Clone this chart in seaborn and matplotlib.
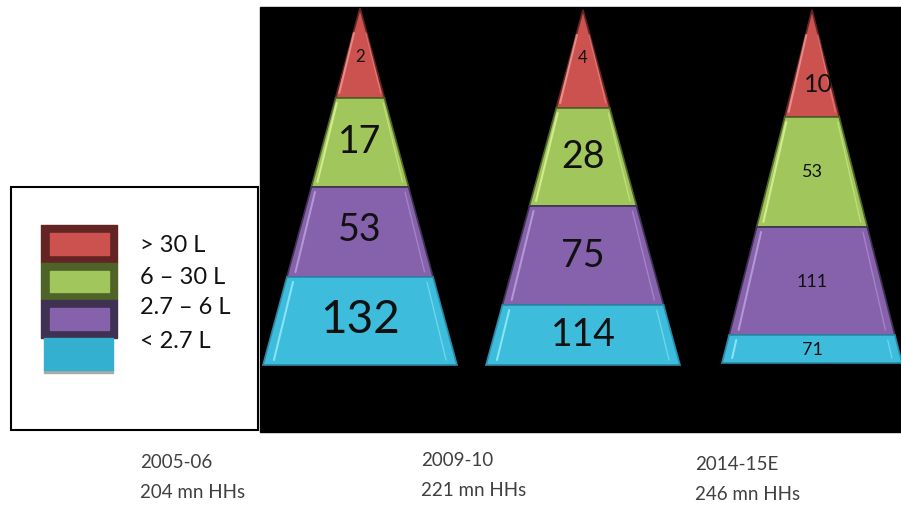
# Pirâmide de renda das famílias - recriação
import numpy as np
import matplotlib.pyplot as plt
from matplotlib.patches import Rectangle
import seaborn as sns

# Dados
anos = ["2005-06", "2009-10", "2014-15E"]
total_hhs = ["204 mn HHs", "221 mn HHs", "246 mn HHs"]
faixas = ["> 30 L", "6 – 30 L", "2.7 – 6 L", "< 2.7 L"]
# valores de cima para baixo (> 30 L ... < 2.7 L)
valores = {
    "2005-06": [2, 17, 53, 132],
    "2009-10": [4, 28, 75, 114],
    "2014-15E": [10, 53, 111, 71],
}

# Layout (pixels)
apex_x = [360, 583, 812]
apex_y = [8, 10, 10]
base_y = [365, 365, 363]
base_half = [97, 97, 90]
limites = [  # fronteiras entre faixas (y)
    [98, 187, 277],
    [108, 206, 305],
    [117, 227, 335],
]
tam_fonte = [
    [12, 27, 27, 33],
    [12, 27, 27, 27],
    [18, 13, 13, 13],
]
label_y = [
    [57, 142, 230, 320],
    [58, 157, 256, 335],
    [85, 172, 282, 350],
]
label_dx = [[0, 0, 0, 0], [0, 0, 0, 0], [6, 0, 0, 0]]

sns.set_theme(style="white")
plt.rcParams['font.family'] = ['Lato', 'DejaVu Sans']

cores = sns.color_palette(["#cc5250", "#a0c65c", "#8562ab", "#3dbcdc"])
cores_borda = ["#632523", "#4f6228", "#3f3151", "#2a8aa8"]
cores_brilho = ["#f59a98", "#def59a", "#c0a4e0", "#9aeefc"]

fig = plt.figure(figsize=(9.01, 5.08), dpi=100)
ax = fig.add_axes([0, 0, 1, 1])
ax.set_xlim(0, 901)
ax.set_ylim(508, 0)
ax.axis('off')

# fundo preto
ax.add_patch(Rectangle((260, 7), 641, 425, color="black", zorder=0))


def largura(i, y):
    return base_half[i] * (y - apex_y[i]) / (base_y[i] - apex_y[i])


for i, ano in enumerate(anos):
    ys = [apex_y[i]] + limites[i] + [base_y[i]]
    for k in range(4):
        y0, y1 = ys[k], ys[k + 1]
        w0, w1 = largura(i, y0), largura(i, y1)
        xs = [apex_x[i] - w0, apex_x[i] + w0, apex_x[i] + w1, apex_x[i] - w1]
        ax.fill(xs, [y0, y0, y1, y1], color=cores[k], edgecolor=cores_borda[k],
                linewidth=1.2, zorder=2)
        # efeito de chanfro (brilho nas bordas)
        ya, yb = y0 + 5, y1 - 5
        if k == 0:
            ya = y0 + 25
        fr = 0.9
        ax.plot([apex_x[i] - fr * largura(i, ya), apex_x[i] - fr * largura(i, yb)],
                [ya, yb], color=cores_brilho[k], lw=1.5, alpha=0.8, zorder=3)
        ax.plot([apex_x[i] + fr * largura(i, ya), apex_x[i] + fr * largura(i, yb)],
                [ya, yb], color=cores_brilho[k], lw=1.0, alpha=0.5, zorder=3)
        ax.text(apex_x[i] + label_dx[i][k], label_y[i][k], str(valores[ano][k]),
                ha='center', va='center', fontsize=tam_fonte[i][k],
                color="#111111", zorder=4)

# rótulos inferiores
rot_x = [140, 421, 695]
rot_y1 = [462, 460, 465]
for i in range(3):
    ax.text(rot_x[i], rot_y1[i], anos[i], ha='left', va='center', fontsize=13.5,
            color="#404040")
    ax.text(rot_x[i], rot_y1[i] + 30, total_hhs[i], ha='left', va='center',
            fontsize=13.5, color="#404040")

# legenda
ax.add_patch(Rectangle((11, 187), 247, 243, facecolor="white", edgecolor="black",
                       linewidth=1.5, zorder=1))
leg_y = [225, 263, 300, 338]
leg_h = [38, 37, 38, 35]
for k in range(4):
    if k < 3:
        ax.add_patch(Rectangle((41, leg_y[k]), 76, leg_h[k], color=cores_borda[k], zorder=2))
        ax.add_patch(Rectangle((50, leg_y[k] + 8), 59, leg_h[k] - 16, color=cores[k], zorder=3))
    else:
        ax.add_patch(Rectangle((44, leg_y[k] + 31), 69, 4, color="#aaaaaa", zorder=2))
        ax.add_patch(Rectangle((44, leg_y[k]), 69, 32, color="#33b0d0", zorder=3))
    ax.text(140, [245, 277, 308, 342][k], faixas[k], ha='left', va='center',
            fontsize=17, color="#111111")

plt.savefig("out.png", dpi=100)
